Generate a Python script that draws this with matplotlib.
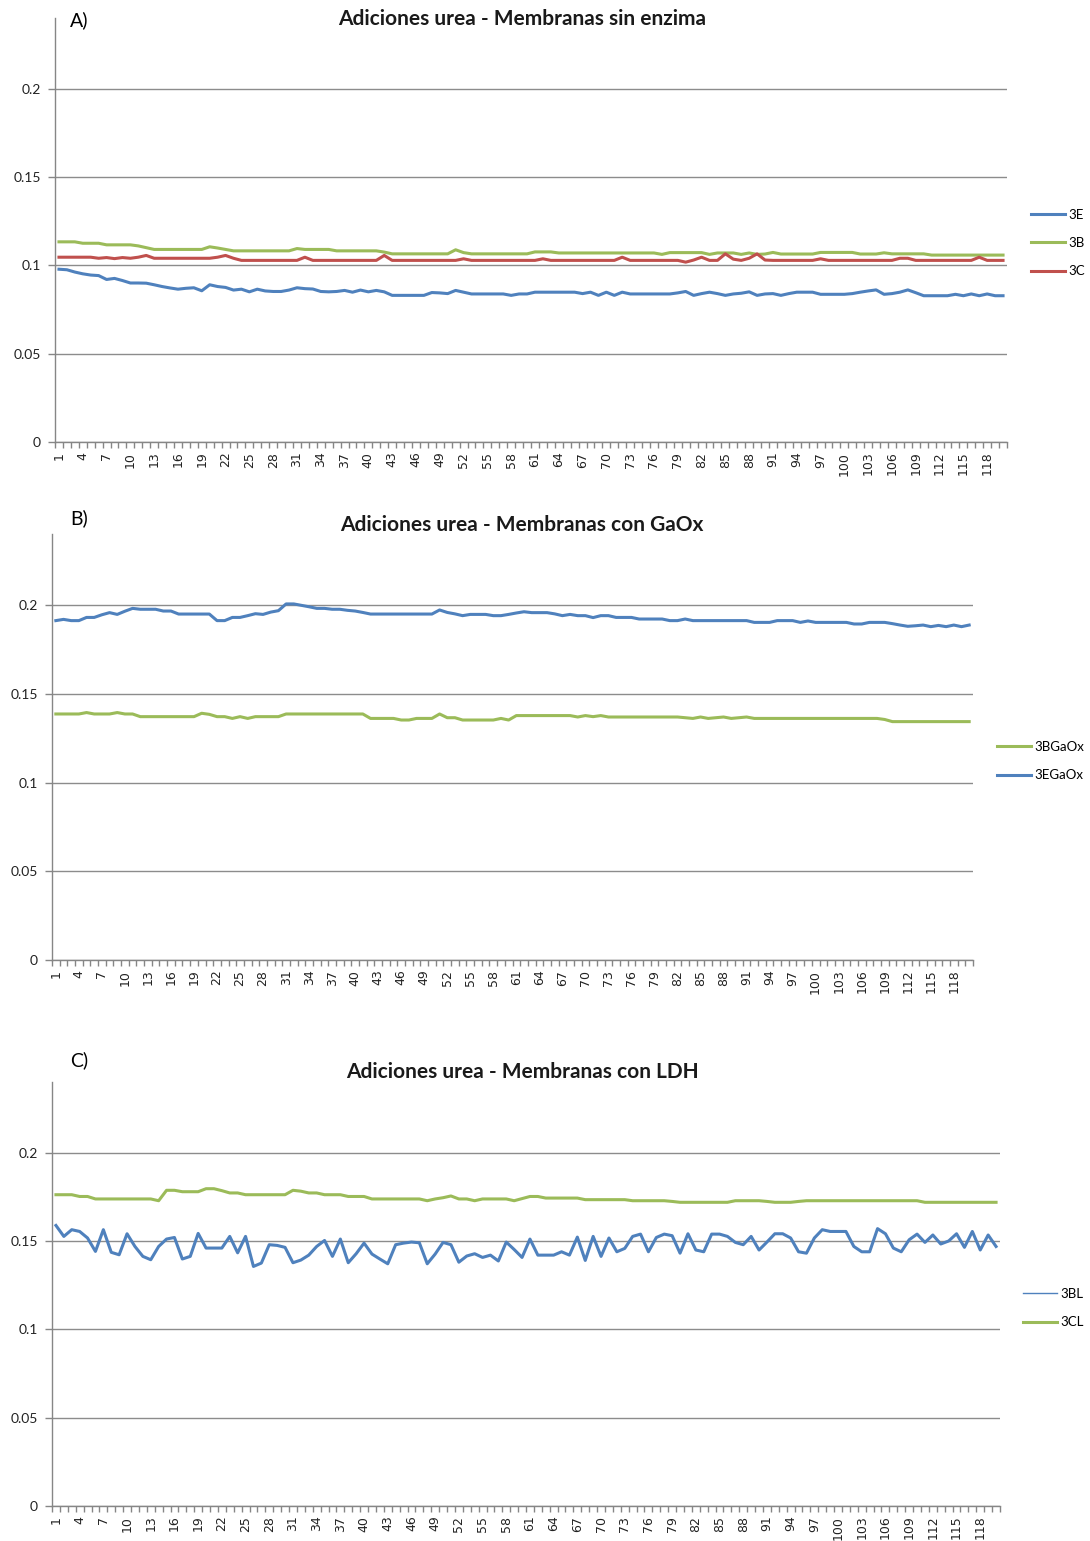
import matplotlib
matplotlib.use('Agg')
import matplotlib.pyplot as plt
from matplotlib.ticker import FixedLocator, FuncFormatter
from matplotlib.lines import Line2D

plt.rcParams['font.family'] = ['Lato', 'DejaVu Sans']

# ---------------- data ----------------
x_idx = list(range(1, 121))
x_tick_values = list(range(1, 121, 3))
y_tick_values = [0, 0.05, 0.1, 0.15, 0.2]

titles = ["Adiciones urea - Membranas sin enzima",
          "Adiciones urea - Membranas con GaOx",
          "Adiciones urea - Membranas con LDH"]
panel_labels = ["A)", "B)", "C)"]

a_3E = [0.0978, 0.0975, 0.0962, 0.0952, 0.0945, 0.0942, 0.0920, 0.0926, 0.0914, 0.0900,
        0.0900, 0.0899, 0.0890, 0.0880, 0.0872, 0.0865, 0.0870, 0.0873, 0.0856, 0.0890,
        0.0880, 0.0875, 0.0860, 0.0865, 0.0850, 0.0865, 0.0855, 0.0852, 0.0852, 0.0860,
        0.0873, 0.0868, 0.0866, 0.0852, 0.0850, 0.0852, 0.0858, 0.0848, 0.0860, 0.0850,
        0.0858, 0.0850, 0.0830, 0.0830, 0.0830, 0.0830, 0.0830, 0.0846, 0.0844, 0.0840,
        0.0858, 0.0848, 0.0838, 0.0838, 0.0838, 0.0838, 0.0838, 0.0830, 0.0838, 0.0838,
        0.0848, 0.0848, 0.0848, 0.0848, 0.0848, 0.0848, 0.0840, 0.0848, 0.0830, 0.0848,
        0.0830, 0.0848, 0.0838, 0.0838, 0.0838, 0.0838, 0.0838, 0.0838, 0.0844, 0.0852,
        0.0830, 0.0840, 0.0848, 0.0840, 0.0830, 0.0838, 0.0842, 0.0850, 0.0830, 0.0838,
        0.0840, 0.0830, 0.0840, 0.0848, 0.0848, 0.0848, 0.0836, 0.0836, 0.0836, 0.0836,
        0.0840, 0.0848, 0.0855, 0.0861, 0.0836, 0.0840, 0.0848, 0.0861, 0.0845, 0.0828,
        0.0828, 0.0828, 0.0828, 0.0836, 0.0828, 0.0838, 0.0828, 0.0838, 0.0828, 0.0828]

a_3B = [0.1133, 0.1133, 0.1133, 0.1125, 0.1125, 0.1125, 0.1116, 0.1116, 0.1116, 0.1116,
        0.1110, 0.1100, 0.1090, 0.1090, 0.1090, 0.1090, 0.1090, 0.1090, 0.1090, 0.1105,
        0.1098, 0.1090, 0.1082, 0.1082, 0.1082, 0.1082, 0.1082, 0.1082, 0.1082, 0.1082,
        0.1095, 0.1090, 0.1090, 0.1090, 0.1090, 0.1082, 0.1082, 0.1082, 0.1082, 0.1082,
        0.1082, 0.1075, 0.1065, 0.1065, 0.1065, 0.1065, 0.1065, 0.1065, 0.1065, 0.1065,
        0.1088, 0.1072, 0.1065, 0.1065, 0.1065, 0.1065, 0.1065, 0.1065, 0.1065, 0.1065,
        0.1076, 0.1076, 0.1076, 0.1070, 0.1070, 0.1070, 0.1070, 0.1070, 0.1070, 0.1070,
        0.1070, 0.1070, 0.1070, 0.1070, 0.1070, 0.1070, 0.1062, 0.1072, 0.1072, 0.1072,
        0.1072, 0.1072, 0.1062, 0.1070, 0.1070, 0.1070, 0.1062, 0.1070, 0.1062, 0.1064,
        0.1073, 0.1064, 0.1064, 0.1064, 0.1064, 0.1064, 0.1073, 0.1073, 0.1073, 0.1073,
        0.1073, 0.1064, 0.1064, 0.1064, 0.1071, 0.1065, 0.1065, 0.1065, 0.1065, 0.1065,
        0.1058, 0.1058, 0.1058, 0.1058, 0.1058, 0.1058, 0.1058, 0.1058, 0.1058, 0.1058]

a_3C = [0.1046, 0.1046, 0.1046, 0.1046, 0.1046, 0.1040, 0.1044, 0.1038, 0.1044, 0.1040,
        0.1046, 0.1056, 0.1040, 0.1040, 0.1040, 0.1040, 0.1040, 0.1040, 0.1040, 0.1040,
        0.1046, 0.1056, 0.1040, 0.1028, 0.1028, 0.1028, 0.1028, 0.1028, 0.1028, 0.1028,
        0.1028, 0.1046, 0.1028, 0.1028, 0.1028, 0.1028, 0.1028, 0.1028, 0.1028, 0.1028,
        0.1028, 0.1056, 0.1028, 0.1028, 0.1028, 0.1028, 0.1028, 0.1028, 0.1028, 0.1028,
        0.1028, 0.1037, 0.1028, 0.1028, 0.1028, 0.1028, 0.1028, 0.1028, 0.1028, 0.1028,
        0.1028, 0.1037, 0.1028, 0.1028, 0.1028, 0.1028, 0.1028, 0.1028, 0.1028, 0.1028,
        0.1028, 0.1046, 0.1028, 0.1028, 0.1028, 0.1028, 0.1028, 0.1028, 0.1028, 0.1018,
        0.1030, 0.1046, 0.1028, 0.1028, 0.1065, 0.1035, 0.1028, 0.1040, 0.1065, 0.1030,
        0.1028, 0.1028, 0.1028, 0.1028, 0.1028, 0.1028, 0.1037, 0.1028, 0.1028, 0.1028,
        0.1028, 0.1028, 0.1028, 0.1028, 0.1028, 0.1028, 0.1040, 0.1040, 0.1028, 0.1028,
        0.1028, 0.1028, 0.1028, 0.1028, 0.1028, 0.1028, 0.1046, 0.1028, 0.1028, 0.1028]

b_3EGaOx = [0.1912, 0.1919, 0.1912, 0.1912, 0.1930, 0.1930, 0.1945, 0.1957, 0.1947, 0.1965,
            0.1981, 0.1976, 0.1976, 0.1976, 0.1966, 0.1966, 0.1949, 0.1949, 0.1949, 0.1949,
            0.1949, 0.1912, 0.1912, 0.1930, 0.1930, 0.1940, 0.1951, 0.1947, 0.1960, 0.1968,
            0.2006, 0.2006, 0.1998, 0.1990, 0.1981, 0.1981, 0.1976, 0.1976, 0.1970, 0.1966,
            0.1958, 0.1949, 0.1949, 0.1949, 0.1949, 0.1949, 0.1949, 0.1949, 0.1949, 0.1949,
            0.1972, 0.1958, 0.1950, 0.1940, 0.1947, 0.1947, 0.1947, 0.1940, 0.1940, 0.1947,
            0.1955, 0.1962, 0.1957, 0.1957, 0.1957, 0.1950, 0.1940, 0.1947, 0.1940, 0.1940,
            0.1929, 0.1940, 0.1940, 0.1930, 0.1930, 0.1930, 0.1921, 0.1921, 0.1921, 0.1921,
            0.1912, 0.1912, 0.1921, 0.1912, 0.1912, 0.1912, 0.1912, 0.1912, 0.1912, 0.1912,
            0.1912, 0.1902, 0.1902, 0.1902, 0.1912, 0.1912, 0.1912, 0.1902, 0.1910, 0.1902,
            0.1902, 0.1902, 0.1902, 0.1902, 0.1893, 0.1893, 0.1902, 0.1902, 0.1902, 0.1895,
            0.1887, 0.1880, 0.1883, 0.1887, 0.1878, 0.1885, 0.1878, 0.1887, 0.1878, 0.1887]

b_3BGaOx = [0.1386, 0.1386, 0.1386, 0.1386, 0.1394, 0.1386, 0.1386, 0.1386, 0.1394, 0.1386,
            0.1386, 0.1371, 0.1371, 0.1371, 0.1371, 0.1371, 0.1371, 0.1371, 0.1371, 0.1390,
            0.1384, 0.1371, 0.1371, 0.1361, 0.1371, 0.1361, 0.1371, 0.1371, 0.1371, 0.1371,
            0.1386, 0.1386, 0.1386, 0.1386, 0.1386, 0.1386, 0.1386, 0.1386, 0.1386, 0.1386,
            0.1386, 0.1361, 0.1361, 0.1361, 0.1361, 0.1352, 0.1352, 0.1361, 0.1361, 0.1361,
            0.1386, 0.1365, 0.1365, 0.1352, 0.1352, 0.1352, 0.1352, 0.1352, 0.1361, 0.1352,
            0.1377, 0.1377, 0.1377, 0.1377, 0.1377, 0.1377, 0.1377, 0.1377, 0.1369, 0.1377,
            0.1371, 0.1377, 0.1369, 0.1369, 0.1369, 0.1369, 0.1369, 0.1369, 0.1369, 0.1369,
            0.1369, 0.1369, 0.1365, 0.1361, 0.1369, 0.1361, 0.1365, 0.1369, 0.1361, 0.1365,
            0.1369, 0.1361, 0.1361, 0.1361, 0.1361, 0.1361, 0.1361, 0.1361, 0.1361, 0.1361,
            0.1361, 0.1361, 0.1361, 0.1361, 0.1361, 0.1361, 0.1361, 0.1361, 0.1355, 0.1343,
            0.1343, 0.1343, 0.1343, 0.1343, 0.1343, 0.1343, 0.1343, 0.1343, 0.1343, 0.1343]

c_3BL = [0.1588, 0.1526, 0.1564, 0.1554, 0.1517, 0.1441, 0.1564, 0.1436, 0.1422, 0.1541,
         0.1469, 0.1413, 0.1394, 0.1469, 0.1511, 0.1520, 0.1398, 0.1413, 0.1543, 0.1460,
         0.1460, 0.1460, 0.1526, 0.1433, 0.1526, 0.1356, 0.1375, 0.1479, 0.1475, 0.1464,
         0.1377, 0.1392, 0.1420, 0.1469, 0.1503, 0.1413, 0.1511, 0.1377, 0.1428, 0.1488,
         0.1426, 0.1398, 0.1371, 0.1479, 0.1488, 0.1494, 0.1490, 0.1371, 0.1426, 0.1492,
         0.1479, 0.1380, 0.1415, 0.1428, 0.1407, 0.1420, 0.1387, 0.1494, 0.1452, 0.1407,
         0.1511, 0.1420, 0.1420, 0.1420, 0.1439, 0.1420, 0.1522, 0.1390, 0.1526, 0.1413,
         0.1517, 0.1439, 0.1458, 0.1526, 0.1539, 0.1439, 0.1520, 0.1539, 0.1530, 0.1431,
         0.1541, 0.1449, 0.1439, 0.1539, 0.1539, 0.1526, 0.1492, 0.1479, 0.1526, 0.1449,
         0.1494, 0.1541, 0.1541, 0.1517, 0.1439, 0.1431, 0.1517, 0.1564, 0.1554, 0.1554,
         0.1554, 0.1469, 0.1439, 0.1439, 0.1570, 0.1541, 0.1460, 0.1439, 0.1507, 0.1539,
         0.1492, 0.1534, 0.1483, 0.1500, 0.1541, 0.1464, 0.1554, 0.1449, 0.1534, 0.1469]

c_3CL = [0.1762, 0.1762, 0.1762, 0.1752, 0.1752, 0.1738, 0.1738, 0.1738, 0.1738, 0.1738,
         0.1738, 0.1738, 0.1738, 0.1728, 0.1787, 0.1787, 0.1779, 0.1779, 0.1779, 0.1796,
         0.1796, 0.1785, 0.1772, 0.1772, 0.1762, 0.1762, 0.1762, 0.1762, 0.1762, 0.1762,
         0.1787, 0.1782, 0.1772, 0.1772, 0.1762, 0.1762, 0.1762, 0.1752, 0.1752, 0.1752,
         0.1738, 0.1738, 0.1738, 0.1738, 0.1738, 0.1738, 0.1738, 0.1728, 0.1738, 0.1745,
         0.1755, 0.1738, 0.1738, 0.1728, 0.1738, 0.1738, 0.1738, 0.1738, 0.1728, 0.1740,
         0.1752, 0.1752, 0.1743, 0.1743, 0.1743, 0.1743, 0.1743, 0.1734, 0.1734, 0.1734,
         0.1734, 0.1734, 0.1734, 0.1728, 0.1728, 0.1728, 0.1728, 0.1728, 0.1724, 0.1719,
         0.1719, 0.1719, 0.1719, 0.1719, 0.1719, 0.1719, 0.1728, 0.1728, 0.1728, 0.1728,
         0.1724, 0.1719, 0.1719, 0.1719, 0.1724, 0.1728, 0.1728, 0.1728, 0.1728, 0.1728,
         0.1728, 0.1728, 0.1728, 0.1728, 0.1728, 0.1728, 0.1728, 0.1728, 0.1728, 0.1728,
         0.1719, 0.1719, 0.1719, 0.1719, 0.1719, 0.1719, 0.1719, 0.1719, 0.1719, 0.1719]

BLUE = '#4F81BD'
GREEN = '#9BBB59'
RED = '#C0504D'
GRID = '#8C8C8C'
AXIS = '#868686'
LW = 2.2

W, H = 1090, 1541
fig = plt.figure(figsize=(W / 100, H / 100), dpi=100)


def px_axes(left, right, top, bottom):
    return fig.add_axes([left / W, 1 - bottom / H, (right - left) / W, (bottom - top) / H])


def style(ax):
    ax.set_xlim(0.5, 120.5)
    ax.set_ylim(0, 0.24)
    for s in ['top', 'right']:
        ax.spines[s].set_visible(False)
    for s in ['left', 'bottom']:
        ax.spines[s].set_color(AXIS)
        ax.spines[s].set_linewidth(1.0)
    ax.yaxis.set_major_locator(FixedLocator(y_tick_values))
    ax.yaxis.set_major_formatter(FuncFormatter(lambda v, p: '%g' % v))
    ax.yaxis.grid(True, color=GRID, linewidth=1.0)
    ax.set_axisbelow(True)
    ax.xaxis.set_major_locator(FixedLocator(x_tick_values))
    ax.set_xticklabels([str(v) for v in x_tick_values], rotation=90,
                       fontsize=9, family=['DejaVu Sans'])
    ax.xaxis.set_minor_locator(FixedLocator([v + 0.5 for v in range(0, 121)]))
    ax.tick_params(axis='x', which='major', length=0, pad=7, colors='#222222')
    ax.tick_params(axis='x', which='minor', length=4, color=AXIS, width=1)
    ax.tick_params(axis='y', which='major', length=5, color=AXIS, width=1,
                   labelsize=10, pad=5, labelcolor='#222222')


leg_kw = dict(loc='center left', bbox_transform=fig.transFigure, frameon=False,
              fontsize=9.5, handlelength=2.6, handletextpad=0.2, labelspacing=1.25,
              borderpad=0, borderaxespad=0)

# Panel A
axA = px_axes(55, 1007, 18, 442)
style(axA)
lA1, = axA.plot(x_idx, a_3E, color=BLUE, lw=LW, label='3E')
lA2, = axA.plot(x_idx, a_3B, color=GREEN, lw=LW, label='3B')
lA3, = axA.plot(x_idx, a_3C, color=RED, lw=LW, label='3C')
axA.legend(handles=[lA1, lA2, lA3], bbox_to_anchor=(1031 / W, 1 - 243 / H), **leg_kw)

# Panel B
axB = px_axes(52, 973, 534, 960)
style(axB)
lB1, = axB.plot(x_idx, b_3EGaOx, color=BLUE, lw=LW, label='3EGaOx')
lB2, = axB.plot(x_idx, b_3BGaOx, color=GREEN, lw=LW, label='3BGaOx')
axB.legend(handles=[lB2, lB1], bbox_to_anchor=(997 / W, 1 - 761 / H), **leg_kw)

# Panel C
axC = px_axes(52, 1000, 1082, 1506)
style(axC)
lC1, = axC.plot(x_idx, c_3BL, color=BLUE, lw=LW, label='3BL')
lC2, = axC.plot(x_idx, c_3CL, color=GREEN, lw=LW, label='3CL')
hC1 = Line2D([0], [0], color=BLUE, lw=1.0)
hC2 = Line2D([0], [0], color=GREEN, lw=LW)
axC.legend(handles=[hC1, hC2], labels=['3BL', '3CL'],
           bbox_to_anchor=(1023 / W, 1 - 1308 / H), **leg_kw)

# Titles and panel labels
for ypx, t in zip([19, 525, 1072], titles):
    fig.text(522 / W, 1 - ypx / H, t, ha='center', va='center',
             fontsize=15, fontweight='bold', color='#1a1a1a')
for ypx, t in zip([20, 518, 1060], panel_labels):
    fig.text(70 / W, 1 - ypx / H, t, ha='left', va='center', fontsize=14, color='black')

fig.savefig('out.png', dpi=100)
